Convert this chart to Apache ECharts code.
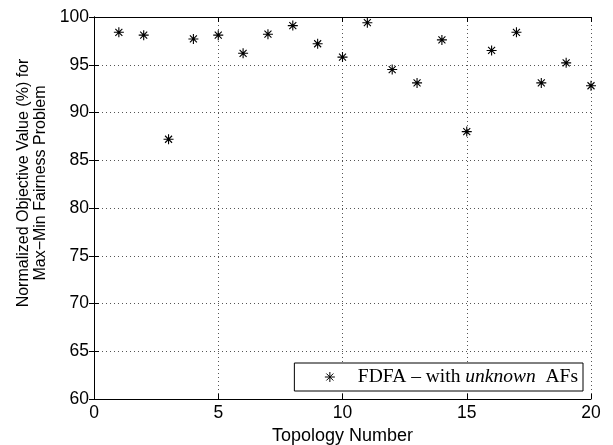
<!DOCTYPE html>
<html lang="en">
  <head>
    <meta charset="UTF-8" />
    <title>Max-Min Fairness</title>
    <script src="https://cdn.jsdelivr.net/npm/echarts@6.0.0/dist/echarts.min.js"></script>
    <style>
      html, body { margin: 0; padding: 0; background: #fff; }
    </style>
  </head>
  <body>
    <div id="main" style="width: 613px; height: 445px"></div>
    <script type="text/javascript">
      // topology numbers and normalized objective values (%)
      let topology = [1, 2, 3, 4, 5, 6, 7, 8, 9, 10, 11, 12, 13, 14, 15, 16, 17, 18, 19, 20]
      let fdfaUnknown = [98.4, 98.1, 87.2, 97.7, 98.1, 96.2, 98.2, 99.1, 97.2, 95.8,
                         99.4, 94.5, 93.1, 97.6, 88.0, 96.5, 98.4, 93.1, 95.2, 92.8]
      let xTicks = [0, 5, 10, 15, 20]
      let yTicks = [60, 65, 70, 75, 80, 85, 90, 95, 100]

      let points = topology.map((t, i) => [t, fdfaUnknown[i]])
      let star = "path://M0,5L10,5M5,0L5,10M1.5,1.5L8.5,8.5M1.5,8.5L8.5,1.5"
      let font = "Liberation Sans"
      let dotted = { color: "#555", width: 1, type: [1, 3] }

      let myChart = echarts.init(document.getElementById("main"))
      let options = {
        animation: false,
        grid: { left: 94, right: 22, top: 17, bottom: 46, outerBoundsMode: "none" },
        xAxis: [
          {
            type: "value", min: xTicks[0], max: xTicks[xTicks.length - 1], interval: 5,
            name: "Topology Number", nameLocation: "middle", nameGap: 27,
            nameTextStyle: { fontFamily: font, fontSize: 18, color: "#000" },
            axisLine: { lineStyle: { color: "#000", width: 1 } },
            axisTick: { inside: true, length: 5, lineStyle: { color: "#000" } },
            axisLabel: { fontFamily: font, fontSize: 17.5, color: "#000", margin: 5 },
            splitLine: { show: true, lineStyle: dotted },
          },
          {
            type: "value", position: "top", min: 0, max: 20, interval: 5,
            axisLine: { show: true, lineStyle: { color: "#000", width: 1 } },
            axisTick: { inside: true, length: 5, lineStyle: { color: "#000" } },
            axisLabel: { show: false }, splitLine: { show: false },
          },
        ],
        yAxis: [
          {
            type: "value", min: yTicks[0], max: yTicks[yTicks.length - 1], interval: 5,
            name: "Normalized Objective Value (%) for\nMax\u2212Min Fairness Problem",
            nameLocation: "middle", nameGap: 45,
            // label sits a little above the middle of the axis in the original
            nameTextStyle: { fontFamily: font, fontSize: 16, color: "#000", lineHeight: 17, padding: [0, 0, 0, 50] },
            axisLine: { show: true, lineStyle: { color: "#000", width: 1 } },
            axisTick: { show: true, inside: true, length: 5, lineStyle: { color: "#000" } },
            axisLabel: { fontFamily: font, fontSize: 17.5, color: "#000", margin: 5 },
            splitLine: { show: true, lineStyle: dotted },
          },
          {
            type: "value", position: "right", min: 60, max: 100, interval: 5,
            axisLine: { show: true, lineStyle: { color: "#000", width: 1 } },
            axisTick: { show: true, inside: true, length: 5, lineStyle: { color: "#000" } },
            axisLabel: { show: false }, splitLine: { show: false },
          },
        ],
        legend: {
          right: 30, bottom: 54,
          orient: "vertical",
          backgroundColor: "#fff",
          borderColor: "#000", borderWidth: 1, borderRadius: 0,
          padding: [4, 5, 4, 28],
          itemWidth: 10, itemHeight: 10, itemGap: 0,
          icon: star,
          itemStyle: { color: "none", borderColor: "#000", borderWidth: 1 },
          formatter: () => "{a|FDFA \u2013 with }{i|unknown}{a|  AFs}",
          textStyle: {
            padding: [0, 0, 0, 18],
            rich: {
              a: { fontFamily: "Liberation Serif", fontSize: 19.5, color: "#000" },
              i: { fontFamily: "Liberation Serif", fontSize: 19.5, color: "#000", fontStyle: "italic" },
            },
          },
          data: ["FDFA - with unknown AFs"],
        },
        series: [
          {
            name: "FDFA - with unknown AFs",
            type: "scatter",
            data: points,
            symbol: star,
            symbolSize: 10,
            itemStyle: { color: "none", borderColor: "#000", borderWidth: 1.1, opacity: 1 },
            emphasis: { disabled: true },
          },
        ],
      }
      myChart.setOption(options)
    </script>
  </body>
</html>
